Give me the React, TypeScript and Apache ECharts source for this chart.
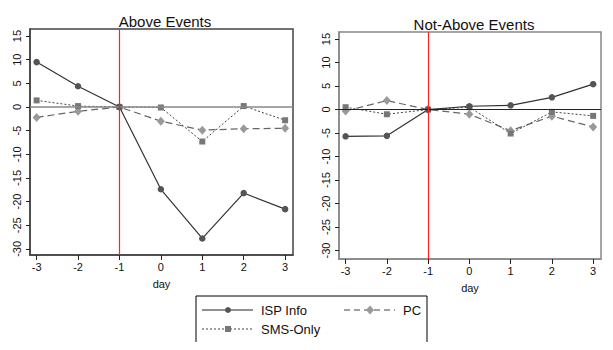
import React, { useEffect, useRef } from "react";
import * as echarts from "echarts";

const days = [-3, -2, -1, 0, 1, 2, 3];
const yTicks = [-30, -25, -20, -15, -10, -5, 0, 5, 10, 15];
const titles = ["Above Events", "Not-Above Events"];
const seriesNames = ["ISP Info", "SMS-Only", "PC"];

const aboveISP = [9.5, 4.4, 0, -17.4, -27.8, -18.2, -21.6];
const aboveSMS = [1.4, 0.2, 0, -0.1, -7.3, 0.2, -2.8];
const abovePC = [-2.2, -0.9, 0, -3.0, -4.9, -4.6, -4.5];

const notISP = [-5.7, -5.6, 0, 0.7, 0.9, 2.6, 5.4];
const notSMS = [0.5, -1.0, 0, 0.5, -5.1, -0.5, -1.35];
const notPC = [-0.3, 1.9, 0, -1.0, -4.5, -1.4, -3.7];

const eventDay = -1;

const FONT = "Liberation Sans, Arial, sans-serif";

const pairs = (vals: number[]) => days.map((d, i) => [d, vals[i]]);

export default function App() {
  const ref = useRef<HTMLDivElement>(null);
  useEffect(() => {
    if (!ref.current) return;
    const chart = echarts.init(ref.current, undefined, { renderer: "svg" });

    const grids = [
      { left: 30, top: 29, width: 263, height: 226, border: "#444", zero: "#888", zeroW: 1.5, yMin: -31.3, yMax: 16.5, xMin: -3.16, xMax: 3.19 },
      { left: 339, top: 32, width: 262, height: 227, border: "#888", zero: "#222", zeroW: 1, yMin: -31.8, yMax: 16.5, xMin: -3.16, xMax: 3.19 },
    ];

    const seriesStyle = [
      { symbol: "circle", symbolSize: 6.5, line: { color: "#333", width: 1.2, type: "solid" }, fill: "#555" },
      { symbol: "rect", symbolSize: 6, line: { color: "#444", width: 1, type: [2, 2] }, fill: "#777" },
      { symbol: "diamond", symbolSize: [8, 9], line: { color: "#666", width: 1.2, type: [7, 4] }, fill: "#999" },
    ];

    const data = [
      [aboveISP, aboveSMS, abovePC],
      [notISP, notSMS, notPC],
    ];

    const series: any[] = [];
    grids.forEach((g, gi) => {
      series.push({
        type: "line",
        xAxisIndex: gi,
        yAxisIndex: gi,
        data: [],
        silent: true,
        markLine: {
          silent: true,
          symbol: "none",
          label: { show: false },
          lineStyle: { color: g.zero, width: g.zeroW, type: "solid" },
          data: [{ yAxis: 0 }],
        },
        z: 1,
      });
      series.push({
        type: "line",
        xAxisIndex: gi,
        yAxisIndex: gi,
        data: [],
        silent: true,
        markLine: {
          silent: true,
          symbol: "none",
          label: { show: false },
          lineStyle: { color: "#ff2020", width: 1.2, type: "solid", opacity: 1 },
          data: [
            [
              { coord: [eventDay, g.yMin] },
              { coord: [eventDay, g.yMax] },
            ],
          ],
        },
        z: 2,
      });
      [2, 1, 0].forEach((si) => {
        const st = seriesStyle[si];
        series.push({
          type: "line",
          name: seriesNames[si],
          xAxisIndex: gi,
          yAxisIndex: gi,
          data: pairs(data[gi][si]),
          symbol: st.symbol,
          symbolSize: st.symbolSize,
          showAllSymbol: true,
          lineStyle: st.line,
          itemStyle: { color: st.fill, borderWidth: 0 },
          z: 3,
        });
      });
    });

    const legendLeft = 196;
    const legendTop = 296;
    const legendItems = [
      { x: 202, y: 310, si: 0, text: seriesNames[0] },
      { x: 344, y: 310, si: 2, text: seriesNames[2] },
      { x: 202, y: 329, si: 1, text: seriesNames[1] },
    ];
    const legendGraphics: any[] = [
      {
        type: "rect",
        shape: { x: legendLeft, y: legendTop, width: 231, height: 47 },
        style: { fill: "#fff", stroke: "#000", lineWidth: 1 },
      },
    ];
    legendItems.forEach((it) => {
      const st = seriesStyle[it.si];
      const dash = it.si === 0 ? undefined : it.si === 1 ? [2, 2] : [6, 4];
      legendGraphics.push({
        type: "line",
        shape: { x1: it.x, y1: it.y, x2: it.x + 51, y2: it.y },
        style: { stroke: it.si === 0 ? "#222" : "#444", lineWidth: 1.2, lineDash: dash },
      });
      const cx = it.x + 26;
      if (it.si === 0) {
        legendGraphics.push({ type: "circle", shape: { cx, cy: it.y, r: 3 }, style: { fill: st.fill } });
      } else if (it.si === 1) {
        legendGraphics.push({ type: "rect", shape: { x: cx - 3, y: it.y - 3, width: 6, height: 6 }, style: { fill: st.fill } });
      } else {
        legendGraphics.push({
          type: "polygon",
          shape: { points: [[cx, it.y - 4.5], [cx + 4, it.y], [cx, it.y + 4.5], [cx - 4, it.y]] },
          style: { fill: st.fill },
        });
      }
      legendGraphics.push({
        type: "text",
        x: it.x + 59,
        y: it.y,
        style: { text: it.text, font: `13px ${FONT}`, fill: "#111", verticalAlign: "middle" },
      });
    });

    const option: any = {
      animation: false,
      backgroundColor: "#fff",
      textStyle: { fontFamily: FONT },
      title: [
        { text: titles[0], left: 160, top: 9, textAlign: "center", textStyle: { fontSize: 15, fontWeight: "normal", color: "#111", fontFamily: FONT } },
        { text: titles[1], left: 469, top: 12, textAlign: "center", textStyle: { fontSize: 15, fontWeight: "normal", color: "#111", fontFamily: FONT } },
      ],
      grid: grids.map((g) => ({
        left: g.left,
        top: g.top,
        width: g.width,
        height: g.height,
        show: true,
        borderColor: g.border,
        borderWidth: 1.5,
        backgroundColor: "#fff",
        containLabel: false,
      })),
      xAxis: grids.map((g, gi) => ({
        type: "value",
        gridIndex: gi,
        min: g.xMin,
        max: g.xMax,
        name: "day",
        nameLocation: "middle",
        nameGap: 23,
        nameTextStyle: { fontSize: 11, color: "#111", fontFamily: FONT },
        axisLine: { show: true, onZero: false, lineStyle: { color: g.border, width: 1.5 } },
        axisTick: { show: true, length: 5, lineStyle: { color: "#222" }, customValues: days },
        axisLabel: { fontSize: 11, color: "#111", margin: 6, customValues: days, fontFamily: FONT },
        splitLine: { show: false },
      })),
      yAxis: grids.map((g, gi) => ({
        type: "value",
        gridIndex: gi,
        min: g.yMin,
        max: g.yMax,
        axisLine: { show: true, onZero: false, lineStyle: { color: g.border, width: 1.5 } },
        axisTick: { show: true, length: 4, lineStyle: { color: "#222" }, customValues: yTicks },
        axisLabel: { fontSize: 11, color: "#111", margin: 8, rotate: 90, customValues: yTicks, fontFamily: FONT },
        splitLine: { show: false },
      })),
      series,
      graphic: legendGraphics,
    };

    chart.setOption(option);
    return () => chart.dispose();
  }, []);

  return <div ref={ref} style={{ width: 613, height: 350, margin: -8 }} />;
}
